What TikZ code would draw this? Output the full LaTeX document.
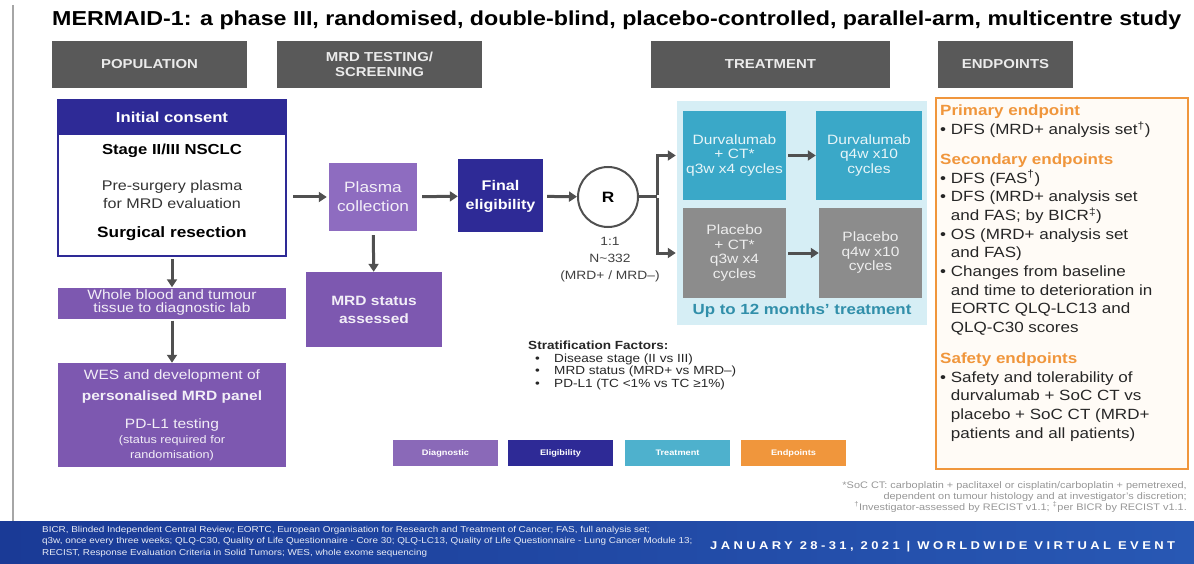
\documentclass[tikz,border=0pt]{standalone}
\usepackage{fontspec}
\setmainfont{Liberation Sans}[FakeStretch=1.15]
\setsansfont{Liberation Sans}[FakeStretch=1.15]
\usepackage{tikz}
\usetikzlibrary{arrows.meta,positioning,calc}
\definecolor{hdrgrey}{RGB}{89,89,89}
\definecolor{eligblue}{RGB}{46,42,150}
\definecolor{diagpurple}{RGB}{125,88,176}
\definecolor{plasmapurple}{RGB}{142,108,192}
\definecolor{treatteal}{RGB}{58,168,200}
\definecolor{treatbg}{RGB}{214,238,245}
\definecolor{placgrey}{RGB}{140,140,140}
\definecolor{endorange}{RGB}{240,150,60}
\definecolor{endbg}{RGB}{255,251,246}
\definecolor{arrgrey}{RGB}{80,80,80}
\definecolor{bannerblue}{RGB}{26,58,150}
\definecolor{bannerlight}{RGB}{40,88,180}
\definecolor{notegrey}{RGB}{150,150,150}
\newcommand{\fsz}[2]{\fontsize{#1}{#2}\selectfont}
\tikzset{
  base/.style={font=\sffamily, align=center, inner sep=2pt, text=black},
  hdr/.style={base, rectangle, fill=hdrgrey, text=white!92!black, minimum height=47, font=\sffamily\bfseries\fsz{13}{15}},
  diag/.style={base, rectangle, fill=diagpurple, text=white!90!diagpurple, font=\sffamily\fsz{13.5}{13}},
  elig/.style={base, rectangle, fill=eligblue, text=white, font=\sffamily\bfseries\fsz{14}{19}},
  treat/.style={base, rectangle, fill=treatteal, text=white!88!treatteal, minimum height=89, font=\sffamily\fsz{13.5}{14.5}},
  plac/.style={treat, fill=placgrey, text=white!85!placgrey},
  legend/.style={base, rectangle, minimum width=105, minimum height=26, text=white, font=\sffamily\bfseries\fsz{8}{9}},
  arr/.style={-{Triangle[length=8pt,width=10pt]}, line width=3pt, draw=arrgrey, shorten <=2pt},
  line/.style={line width=3pt, draw=arrgrey},
}

\begin{document}
\begin{tikzpicture}[x=1pt,y=-1pt]
  \useasboundingbox (0,0) rectangle (1194,564);
  \draw[gray!70, line width=1.5pt] (13,5) -- (13,521);
  \node[base, anchor=west, font=\sffamily\bfseries\fsz{20.2}{22}] (title) at (50,20) {MERMAID-1: a phase III, randomised, double-blind, placebo-controlled, parallel-arm, multicentre study};

  % column headers
  \node[hdr, minimum width=195] (hpop) at (149.5,64.5) {POPULATION};
  \node[hdr, minimum width=205] (hmrd) at (379.5,64.5) {MRD TESTING/\\SCREENING};
  \node[hdr, minimum width=239] (htrt) at (770.5,64.5) {TREATMENT};
  \node[hdr, minimum width=135] (hend) at (1005.5,64.5) {ENDPOINTS};

  % population
  \node[base, draw=eligblue, line width=2.5pt, fill=white, minimum width=228, minimum height=156] (pop) at (172,178) {};
  \node[base, fill=eligblue, text=white, minimum width=228, minimum height=35, font=\sffamily\bfseries\fsz{14.5}{16}] (consent) at (172,117.5) {Initial consent};
  \node[base, font=\sffamily\bfseries\fsz{14.5}{16}] (stage) at (172,151) {Stage II/III NSCLC};
  \node[base, text=black!80, font=\sffamily\fsz{14}{18}] (presurg) at (172,194) {Pre-surgery plasma\\for MRD evaluation};
  \node[base, font=\sffamily\bfseries\fsz{15}{17}] (surg) at (172,234) {Surgical resection};
  \node[diag, minimum width=228, minimum height=31] (blood) at (172,303) {Whole blood and tumour\\tissue to diagnostic lab};
  \node[diag, minimum width=228, minimum height=104, font=\sffamily\fsz{13.5}{15}] (wes) at (172,415) {WES and development of\\[6pt]{\bfseries personalised MRD panel}\\[13pt]PD-L1 testing\\{\fsz{11}{13}(status required for}\\{\fsz{11}{13}randomisation)}};
  \draw[arr] (pop) -- (blood);
  \draw[arr] (blood) -- (wes);

  % MRD testing / screening
  \node[diag, fill=plasmapurple, minimum width=88, minimum height=68, font=\sffamily\fsz{15}{19}] (plasma) at (373,197) {Plasma\\collection};
  \node[diag, minimum width=136, minimum height=75, font=\sffamily\bfseries\fsz{13.5}{18}] (mrdstat) at (374,309.5) {MRD status\\assessed};
  \node[elig, minimum width=85, minimum height=73] (final) at (500.5,196) {Final\\eligibility};
  \node[base, circle, draw=arrgrey, line width=2pt, fill=white, minimum size=60, font=\sffamily\bfseries\fsz{15}{17}] (rand) at (608,197) {R};
  \node[base, text=black!75, font=\sffamily\fsz{12}{17}] (ratio) at (610,260) {1:1\\N{\char"007E}332\\(MRD+ / MRD–)};
  \draw[arr, shorten >=2pt, shorten <=6pt] (pop.east |- plasma) -- (plasma);
  \draw[arr, shorten <=5pt] (plasma) -- (final);
  \draw[arr, shorten <=4pt] (final) -- (rand);
  \draw[arr, shorten <=4pt] (plasma) -- (mrdstat);

  % treatment
  \node[base, fill=treatbg, minimum width=250, minimum height=224] (trtbg) at (802,213) {};
  \node[treat, minimum width=103] (durva1) at (734.5,155.5) {Durvalumab\\+ CT*\\q3w x4 cycles};
  \node[treat, minimum width=106] (durva2) at (869,155.5) {Durvalumab\\q4w x10\\cycles};
  \node[plac, minimum width=103, minimum height=90] (plac1) at (734.5,253) {Placebo\\+ CT*\\q3w x4\\cycles};
  \node[plac, minimum width=103, minimum height=90] (plac2) at (870.5,253) {Placebo\\q4w x10\\cycles};
  \node[base, text=treatteal!85!black, font=\sffamily\bfseries\fsz{14.7}{16}] (upto) at (802,311) {Up to 12 months' treatment};
  \draw[line] (rand.east) -- ++(18,0) coordinate (fork);
  \draw[arr, shorten >=7pt, shorten <=0pt] ([yshift=1.5pt]fork) |- (durva1.west);
  \draw[arr, shorten >=7pt, shorten <=0pt] ([yshift=-1.5pt]fork) |- (plac1.west);
  \draw[arr] (durva1) -- (durva2);
  \draw[arr] (plac1) -- (plac2);

  % endpoints
  \node[base, draw=endorange, line width=2pt, fill=endbg, minimum width=252, minimum height=371, anchor=north west] (endbox) at (935,97) {};
  \node[base, anchor=north west, align=left, text=black!85, font=\sffamily\fsz{14.8}{18.7}] (endtext) at (938,103) {%
    {\color{endorange}\bfseries Primary endpoint}\\
    • DFS (MRD+ analysis set\textsuperscript{†})\\[11pt]
    {\color{endorange}\bfseries Secondary endpoints}\\
    • DFS (FAS\textsuperscript{†})\\
    • DFS (MRD+ analysis set\\
    \hphantom{• }and FAS; by BICR\textsuperscript{‡})\\
    • OS (MRD+ analysis set\\
    \hphantom{• }and FAS)\\
    • Changes from baseline\\
    \hphantom{• }and time to deterioration in\\
    \hphantom{• }EORTC QLQ-LC13 and\\
    \hphantom{• }QLQ-C30 scores\\[12pt]
    {\color{endorange}\bfseries Safety endpoints}\\
    • Safety and tolerability of\\
    \hphantom{• }durvalumab + SoC CT vs\\
    \hphantom{• }placebo + SoC CT (MRD+\\
    \hphantom{• }patients and all patients)};

  % stratification
  \node[base, anchor=north west, align=left, text=black!85, font=\sffamily\fsz{11.8}{12.5}] (strat) at (526,339) {%
    {\bfseries Stratification Factors:}\\
    \hspace*{7pt}\makebox[19pt][l]{•}Disease stage (II vs III)\\
    \hspace*{7pt}\makebox[19pt][l]{•}MRD status (MRD+ vs MRD–)\\
    \hspace*{7pt}\makebox[19pt][l]{•}PD-L1 (TC <1\% vs TC ≥1\%)};

  % legend
  \node[legend, fill=diagpurple!90!white] (lgdiag) at (445.5,453) {Diagnostic};
  \node[legend, fill=eligblue] (lgelig) at (560.5,453) {Eligibility};
  \node[legend, fill=treatteal!90!white] (lgtreat) at (677.5,453) {Treatment};
  \node[legend, fill=endorange] (lgend) at (793.5,453) {Endpoints};

  % footnotes
  \node[base, anchor=north east, align=right, text=notegrey, font=\sffamily\fsz{9.5}{11}] (notes) at (1189,479) {*SoC CT: carboplatin + paclitaxel or cisplatin/carboplatin + pemetrexed,\\dependent on tumour histology and at investigator's discretion;\\\textsuperscript{†}Investigator-assessed by RECIST v1.1; \textsuperscript{‡}per BICR by RECIST v1.1.};

  % banner
  \node[base, rectangle, left color=bannerblue, right color=bannerlight, minimum width=1194, minimum height=43, anchor=north west, inner sep=0pt] (banner) at (0,521) {};
  \node[base, anchor=north west, align=left, text=white!90!bannerblue, font=\sffamily\fsz{8.6}{11.5}] (abbr) at (40,524) {BICR, Blinded Independent Central Review; EORTC, European Organisation for Research and Treatment of Cancer; FAS, full analysis set;\\q3w, once every three weeks; QLQ-C30, Quality of Life Questionnaire - Core 30; QLQ-LC13, Quality of Life Questionnaire - Lung Cancer Module 13;\\RECIST, Response Evaluation Criteria in Solid Tumors; WES, whole exome sequencing};
  \node[base, anchor=west, text=white, font=\sffamily\bfseries\fsz{11.3}{13}\addfontfeature{LetterSpace=30}] (event) at (708,547) {JANUARY 28-31, 2021 | WORLDWIDE VIRTUAL EVENT};
\end{tikzpicture}
\end{document}
